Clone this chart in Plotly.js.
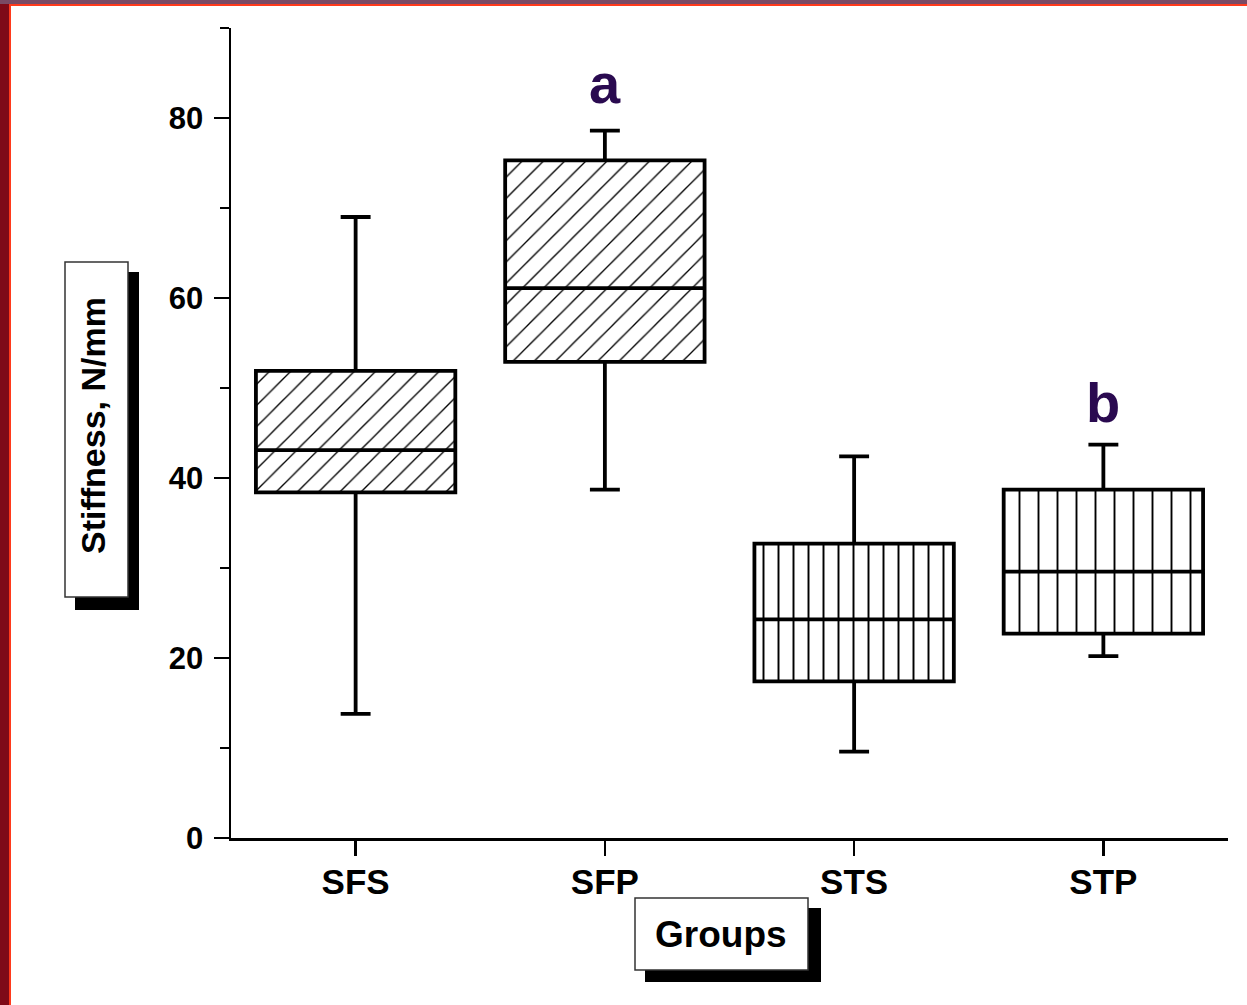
<!DOCTYPE html>
<html>
<head>
<meta charset="utf-8">
<script src="https://cdn.plot.ly/plotly-3.0.1.min.js"></script>
<style>
  html, body { margin: 0; padding: 0; background: #ffffff; }
  #chart { width: 1247px; height: 1005px; }
</style>
</head>
<body>
<div id="chart"></div>
<script>
// ---- data ----
const categories = ['SFS', 'SFP', 'STS', 'STP'];
const lowerWhisker = [13.8, 38.7, 9.6, 20.2];
const q1Values = [38.4, 52.9, 17.4, 22.7];
const medianValues = [43.1, 61.1, 24.3, 29.6];
const q3Values = [51.9, 75.3, 32.7, 38.7];
const upperWhisker = [69.0, 78.6, 42.4, 43.7];
const hatchShapes = ['/', '/', '|', '|'];
const yTickValues = [0, 20, 40, 60, 80];
const yTickLabels = ['0', '20', '40', '60', '80'];
const letterLabels = ['a', 'b'];
const letterCategories = ['SFP', 'STP'];
const letterPositions = [83.8, 48.4];

// ---- layout helpers (pixel -> paper) ----
const W = 1247, H = 1005;
const M = { l: 231, r: 19, t: 28, b: 167 };
const PW = W - M.l - M.r, PH = H - M.t - M.b;
const px = X => (X - M.l) / PW;
const py = Y => (H - M.b - Y) / PH;

function rect(x0, y0, x1, y1, fill, lineColor, lineWidth) {
  return {
    type: 'rect', xref: 'paper', yref: 'paper', layer: 'above',
    x0: px(x0), x1: px(x1), y0: py(y1), y1: py(y0),
    fillcolor: fill,
    line: { color: lineColor || fill, width: lineWidth === undefined ? 0 : lineWidth }
  };
}

const hatch = {
  type: 'bar',
  x: categories,
  base: q1Values,
  y: q3Values.map((v, i) => v - q1Values[i]),
  width: 0.8,
  marker: {
    color: '#ffffff',
    line: { width: 0 },
    pattern: {
      shape: hatchShapes,
      size: [15, 15, 15, 19],
      solidity: [0.09, 0.09, 0.13, 0.1],
      fgcolor: '#000000',
      bgcolor: '#ffffff',
      fillmode: 'replace'
    }
  },
  hoverinfo: 'skip',
  showlegend: false
};

const boxes = {
  type: 'box',
  x: categories,
  q1: q1Values,
  median: medianValues,
  q3: q3Values,
  lowerfence: lowerWhisker,
  upperfence: upperWhisker,
  width: 0.8,
  whiskerwidth: 0.15,
  fillcolor: 'rgba(0,0,0,0)',
  line: { color: '#000000', width: 3.8 },
  boxpoints: false,
  hoverinfo: 'skip',
  showlegend: false
};

const FAM = 'Liberation Sans, Arial, sans-serif';

const layout = {
  width: W, height: H,
  margin: M,
  paper_bgcolor: '#ffffff',
  plot_bgcolor: '#ffffff',
  showlegend: false,
  barmode: 'overlay',
  boxmode: 'overlay',
  xaxis: {
    type: 'category',
    categoryorder: 'array',
    categoryarray: categories,
    range: [-0.5, 3.5],
    showline: true, linecolor: '#000', linewidth: 2.5,
    ticks: 'outside', ticklen: 15, tickwidth: 2.5, tickcolor: '#000',
    tickfont: { family: FAM, size: 35, color: '#000', weight: 'bold' },
    ticklabelstandoff: -4,
    showgrid: false, zeroline: false, fixedrange: true
  },
  yaxis: {
    range: [0, 90],
    tickmode: 'array', tickvals: yTickValues, ticktext: yTickLabels,
    showline: true, linecolor: '#000', linewidth: 2.5,
    ticks: 'outside', ticklen: 15, tickwidth: 2.5, tickcolor: '#000',
    tickfont: { family: FAM, size: 31, color: '#000', weight: 'bold' },
    ticklabelstandoff: 4,
    minor: { dtick: 10, tick0: 0, ticks: 'outside', ticklen: 9, tickwidth: 2.5, tickcolor: '#000', showgrid: false },
    showgrid: false, zeroline: false, fixedrange: true
  },
  shapes: [
    // outer frame (left dark red strip, top mauve strip, bright red inner line)
    rect(0, 0, 9, 1005, '#7e0a18'),
    rect(0, 0, 1247, 4, '#7a4a64'),
    rect(9, 4, 11, 1005, '#ff3a1c'),
    rect(9, 4, 1247, 6, '#ff3a1c'),
    // y title box with shadow
    rect(75, 272, 139, 610, '#000000'),
    rect(65, 262, 128, 597, '#ffffff', '#333333', 1.5),
    // x title box with shadow
    rect(645, 908, 821, 982, '#000000'),
    rect(635, 898, 808, 970, '#ffffff', '#333333', 1.5)
  ],
  annotations: [
    {
      text: 'Stiffness, N/mm', textangle: -90,
      xref: 'paper', yref: 'paper', x: px(93), y: py(426),
      xanchor: 'center', yanchor: 'middle', showarrow: false,
      font: { family: FAM, size: 34, color: '#000', weight: 'bold' }
    },
    {
      text: 'Groups',
      xref: 'paper', yref: 'paper', x: px(721), y: py(934),
      xanchor: 'center', yanchor: 'middle', showarrow: false,
      font: { family: FAM, size: 37, color: '#000', weight: 'bold' }
    }
  ].concat(letterLabels.map((t, i) => ({
    text: t, xref: 'x', yref: 'y', x: letterCategories[i], y: letterPositions[i],
    xanchor: 'center', yanchor: 'middle', showarrow: false,
    font: { family: FAM, size: 56, color: '#2a0a50', weight: 'bold' }
  })))
};

Plotly.newPlot('chart', [hatch, boxes], layout, { staticPlot: true, displayModeBar: false });
</script>
</body>
</html>
